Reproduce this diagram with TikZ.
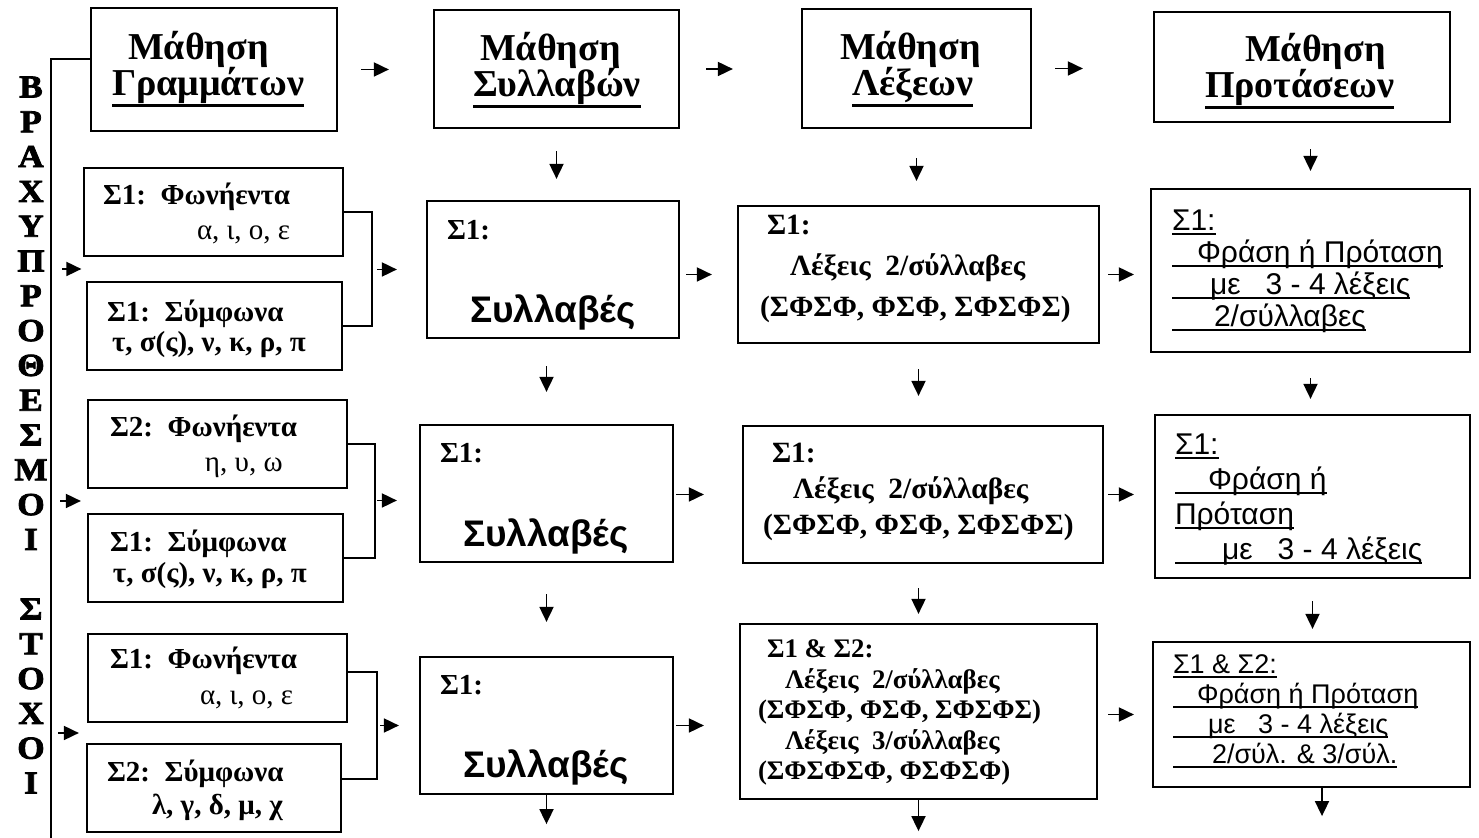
\documentclass[tikz,border=0pt]{standalone}
\usepackage{fontspec}
\setmainfont{Liberation Serif}
\setsansfont{Liberation Sans}
\newfontfamily\heavyfont{Liberation Serif}[BoldFeatures={FakeBold=2.5,FakeStretch=1.1}]
\usepackage{tikz}
\usetikzlibrary{arrows.meta,positioning,calc}
\newbox\ulbox
\newcommand{\ulhead}[1]{\leavevmode\setbox\ulbox\hbox{#1}\rlap{\rule[-5.5pt]{\wd\ulbox}{1.4pt}}\box\ulbox}
\newcommand{\ultext}[1]{\leavevmode\setbox\ulbox\hbox{#1}\rlap{\rule[-2pt]{\wd\ulbox}{0.8pt}}\box\ulbox}
% text inside a box: width, height, first baseline, line skip, lines
\newcommand{\inbox}[5]{\parbox[c][#2][t]{#1}{\lineskiplimit=-50pt\baselineskip=#4\relax\rule{0pt}{#3}#5}}
\tikzset{
  basebox/.style={rectangle,draw=black,line width=1.1pt,inner sep=0pt},
  headnode/.style={basebox,font=\fontsize{19}{19}\selectfont\bfseries},
  lettnode/.style={basebox,font=\fontsize{14.5}{16}\selectfont\bfseries},
  sylnode/.style={basebox,font=\fontsize{14.5}{16}\selectfont\bfseries},
  wordnode/.style={basebox,font=\fontsize{14.7}{18}\selectfont\bfseries},
  sentnode/.style={basebox,font=\sffamily\fontsize{15}{16}\selectfont},
  sidelabel/.style={align=center,inner sep=0pt,font=\heavyfont\fontsize{16}{17.4}\selectfont\bfseries},
  lnk/.style={line width=0.9pt},
  arr/.style={-{Triangle[length=7.5pt,width=7pt]},line width=0.9pt}
}
\newcommand{\syl}{{\sffamily\fontsize{18.5}{18.5}\selectfont Συλλαβές}}

\begin{document}
\begin{tikzpicture}[x=0.5pt,y=-0.5pt]
  \useasboundingbox (0,0) rectangle (1479,838);

  % stages
  \node[headnode] (letters) at (214,69.5)
      {\inbox{123pt}{61.5pt}{26pt}{18pt}{\hspace*{18.5pt}Μάθηση\\\hspace*{10.5pt}\ulhead{Γραμμάτων}}};
  \node[headnode] (syllables) at (556.5,69)
      {\inbox{122.5pt}{59pt}{25.5pt}{18pt}{\hspace*{23pt}Μάθηση\\\hspace*{19.5pt}\ulhead{Συλλαβών}}};
  \node[headnode] (words) at (916.5,68.5)
      {\inbox{114.5pt}{59.5pt}{25.5pt}{18pt}{\hspace*{19pt}Μάθηση\\\hspace*{25pt}\ulhead{Λέξεων}}};
  \node[headnode] (sentences) at (1302,67)
      {\inbox{148pt}{55pt}{25pt}{18pt}{\hspace*{45.5pt}Μάθηση\\\hspace*{25.5pt}\ulhead{Προτάσεων}}};

  % letters column
  \node[lettnode] (vow1) at (213.5,212)
      {\inbox{129.5pt}{44pt}{18.5pt}{17.5pt}{\hspace*{9.5pt}Σ1:\ \ Φωνήεντα\\\hspace*{56.5pt}{\mdseries α, ι, ο, ε}}};
  \node[lettnode] (con1) at (214.5,326)
      {\inbox{127.5pt}{44pt}{20pt}{15pt}{\hspace*{10pt}Σ1:\ \ Σύμφωνα\\\hspace*{12.5pt}τ, σ(ς), ν, κ, ρ, π}};
  \node[lettnode] (vow2) at (217.5,444)
      {\inbox{129.5pt}{44pt}{18.5pt}{17.5pt}{\hspace*{11pt}Σ2:\ \ Φωνήεντα\\\hspace*{58.5pt}{\mdseries η, υ, ω}}};
  \node[lettnode] (con2) at (215.5,558)
      {\inbox{127.5pt}{44pt}{19pt}{15.5pt}{\hspace*{11pt}Σ1:\ \ Σύμφωνα\\\hspace*{12.5pt}τ, σ(ς), ν, κ, ρ, π}};
  \node[lettnode] (vow3) at (217.5,678)
      {\inbox{129.5pt}{44pt}{17.5pt}{18pt}{\hspace*{11pt}Σ1:\ \ Φωνήεντα\\\hspace*{56pt}{\mdseries α, ι, ο, ε}}};
  \node[lettnode] (con3) at (214,788)
      {\inbox{127pt}{44pt}{19pt}{16.5pt}{\hspace*{10pt}Σ2:\ \ Σύμφωνα\\\hspace*{32.5pt}λ, γ, δ, μ, χ}};

  % syllables column
  \node[sylnode] (syl1) at (553,269.5)
      {\inbox{126pt}{68.5pt}{19.5pt}{41.5pt}{\hspace*{10pt}Σ1:\\\hspace*{21.5pt}\syl}};
  \node[sylnode] (syl2) at (546.5,493.5)
      {\inbox{126.5pt}{68.5pt}{19pt}{42pt}{\hspace*{10pt}Σ1:\\\hspace*{21.5pt}\syl}};
  \node[sylnode] (syl3) at (546.5,725.5)
      {\inbox{126.5pt}{68.5pt}{19pt}{41.5pt}{\hspace*{10pt}Σ1:\\\hspace*{21.5pt}\syl}};

  % words column
  \node[wordnode] (wrd1) at (918.5,274.5)
      {\inbox{180.5pt}{68.5pt}{14.5pt}{20.5pt}{\hspace*{14.5pt}Σ1:\\\hspace*{26pt}Λέξεις\ \ 2/σύλλαβες\\\hspace*{11pt}(ΣΦΣΦ, ΦΣΦ, ΣΦΣΦΣ)}};
  \node[wordnode] (wrd2) at (923,494.5)
      {\inbox{180pt}{68.5pt}{18.5pt}{18pt}{\hspace*{14.5pt}Σ1:\\\hspace*{25pt}Λέξεις\ \ 2/σύλλαβες\\\hspace*{10pt}(ΣΦΣΦ, ΦΣΦ, ΣΦΣΦΣ)}};
  \node[wordnode,font=\fontsize{13.4}{16}\selectfont\bfseries] (wrd3) at (918.5,711.5)
      {\inbox{178.5pt}{87.5pt}{17pt}{15.25pt}{\hspace*{13.5pt}Σ1 \& Σ2:\\\hspace*{22.5pt}Λέξεις\ \ 2/σύλλαβες\\\hspace*{9pt}(ΣΦΣΦ, ΦΣΦ, ΣΦΣΦΣ)\\\hspace*{22.5pt}Λέξεις\ \ 3/σύλλαβες\\\hspace*{9pt}(ΣΦΣΦΣΦ, ΦΣΦΣΦ)}};

  % sentences column
  \node[sentnode] (snt1) at (1310.5,270.5)
      {\inbox{159.5pt}{81.5pt}{21pt}{16pt}{\hspace*{10.5pt}\ultext{Σ1:}\\\hspace*{10.5pt}\ultext{\hspace*{12.5pt}Φράση ή Πρόταση}\\\hspace*{10.5pt}\ultext{\hspace*{19pt}με\ \ \ 3 - 4 λέξεις}\\\hspace*{10.5pt}\ultext{\hspace*{21pt}2/σύλλαβες}}};
  \node[sentnode] (snt2) at (1312.5,496.5)
      {\inbox{157.5pt}{81.5pt}{20pt}{17.5pt}{\hspace*{10pt}\ultext{Σ1:}\\\hspace*{10pt}\ultext{\hspace*{16.5pt}Φράση ή}\\\hspace*{10pt}\ultext{Πρόταση}\\\hspace*{10pt}\ultext{\hspace*{23.5pt}με\ \ \ 3 - 4 λέξεις}}};
  \node[sentnode,font=\sffamily\fontsize{13.5}{15}\selectfont] (snt3) at (1311.5,714.5)
      {\inbox{158.5pt}{72.5pt}{16pt}{15pt}{\hspace*{10pt}\ultext{Σ1 \& Σ2:}\\\hspace*{10pt}\ultext{\hspace*{12pt}Φράση ή Πρόταση}\\\hspace*{10pt}\ultext{\hspace*{17.5pt}με\ \ \ 3 - 4 λέξεις}\\\hspace*{10pt}\ultext{\hspace*{19.5pt}2/σύλ. \& 3/σύλ.}}};

  % side label
  \node[sidelabel] (brachy) at (31,313.2) {Β\\Ρ\\Α\\Χ\\Υ\\Π\\Ρ\\Ο\\Θ\\Ε\\Σ\\Μ\\Ο\\Ι};
  \node[sidelabel] (stochoi) at (31,696) {Σ\\Τ\\Ο\\Χ\\Ο\\Ι};

  % spine and side arrows
  \coordinate (sptop) at (51,59);
  \coordinate (spbot) at (51,838);
  \draw[lnk] (letters.west |- sptop) -- (sptop) -- (spbot);
  \coordinate (m1) at ($(vow1.south west)!.5!(con1.north west)$);
  \coordinate (m2) at ($(vow2.south west)!.5!(con2.north west)$);
  \coordinate (m3) at ($(vow3.south west)!.5!(con3.north west)$);
  \draw[arr,shorten <=5.5pt,shorten >=1.5pt] (sptop |- m1) -- (m1);
  \draw[arr,shorten <=4.5pt,shorten >=3pt] (sptop |- m2) -- (m2);
  \draw[arr,shorten <=3.5pt,shorten >=3.75pt] (sptop |- m3) -- (m3);

  % brackets
  \coordinate (j1) at (372,269.5);
  \coordinate (j2) at (375,500.5);
  \coordinate (j3) at (377,725.5);
  \draw[lnk] (vow1.east) -- (vow1.east -| j1) -- (con1.east -| j1) -- (con1.east);
  \draw[lnk] (vow2.east) -- (vow2.east -| j2) -- (con2.east -| j2) -- (con2.east);
  \draw[lnk] ([yshift=3pt]vow3.east) -- ([yshift=3pt]vow3.east -| j3)
      -- ([yshift=4.5pt]con3.east -| j3) -- ([yshift=4.5pt]con3.east);
  \draw[arr,shorten <=2.5pt,shorten >=14.5pt] (j1) -- (j1 -| syl1.west);
  \draw[arr,shorten <=1pt,shorten >=11pt] (j2) -- (j2 -| syl2.west);
  \draw[arr,shorten <=1.5pt,shorten >=10pt] (j3) -- (j3 -| syl3.west);

  % across the top
  \draw[arr,shorten <=11.5pt,shorten >=22pt] (letters.east) -- (letters.east -| syllables.west);
  \draw[arr,shorten <=13pt,shorten >=34pt] (syllables.east) -- (syllables.east -| words.west);
  \draw[arr,shorten <=11.5pt,shorten >=35pt] (words.east) -- (words.east -| sentences.west);

  % across the rows
  \draw[arr,shorten <=3pt,shorten >=12.5pt] (syl1.east |- wrd1.west) -- (wrd1.west);
  \draw[arr,shorten <=1pt,shorten >=19pt] (syl2.east |- wrd2.west) -- (wrd2.west);
  \draw[arr,shorten <=1pt,shorten >=17.5pt] (syl3.east) -- (syl3.east -| wrd3.west);
  \draw[arr,shorten <=4pt,shorten >=8pt] (wrd1.east) -- (wrd1.east -| snt1.west);
  \draw[arr,shorten <=2pt,shorten >=10pt] (wrd2.east) -- (wrd2.east -| snt2.west);
  \draw[arr,shorten <=5pt,shorten >=9pt] (wrd3.east |- snt3.west) -- (snt3.west);

  % down the columns
  \draw[arr,shorten <=11pt,shorten >=10.5pt] (syllables.south) -- (syllables.south |- syl1.north);
  \draw[arr,shorten <=13.5pt,shorten >=16pt] (syl1.south -| syl2.north) -- (syl2.north);
  \draw[arr,shorten <=15.5pt,shorten >=17pt] (syl2.south) -- (syl3.north);
  \coordinate[below=14.5pt of syl3] (syl3out);
  \draw[arr] (syl3.south) -- (syl3out);

  \draw[arr,shorten <=14.5pt,shorten >=12pt] (words.south) -- (words.south |- wrd1.north);
  \draw[arr,shorten <=12.5pt,shorten >=14.5pt] (wrd1.south) -- (wrd1.south |- wrd2.north);
  \draw[arr,shorten <=12pt,shorten >=4.5pt] (wrd3.north |- wrd2.south) -- (wrd3.north);
  \coordinate[below=15.5pt of wrd3] (wrd3out);
  \draw[arr] (wrd3.south) -- (wrd3out);

  \draw[arr,shorten <=13pt,shorten >=8.5pt] (snt1.north |- sentences.south) -- (snt1.north);
  \draw[arr,shorten <=12.5pt,shorten >=7.5pt] (snt1.south) -- (snt1.south |- snt2.north);
  \draw[arr,shorten <=11pt,shorten >=6pt] (snt2.south) -- (snt2.south |- snt3.north);
  \coordinate[below=14pt of snt3,xshift=5.25pt] (snt3out);
  \draw[arr] (snt3out |- snt3.south) -- (snt3out);
\end{tikzpicture}
\end{document}
